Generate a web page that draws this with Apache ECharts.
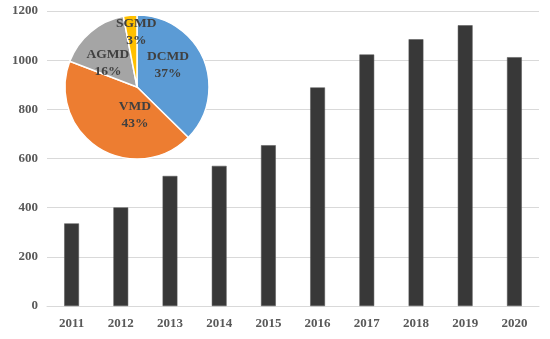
<!DOCTYPE html>
<html><head><meta charset="utf-8">
<script src="https://cdn.jsdelivr.net/npm/echarts@6/dist/echarts.min.js"></script>
<style>html,body{margin:0;padding:0;background:#fff}#c{width:550px;height:339px}</style>
</head><body><div id="c"></div>
<script>
const years = ['2011','2012','2013','2014','2015','2016','2017','2018','2019','2020'];
const counts = [336, 401, 529, 570, 654, 889, 1023, 1085, 1142, 1012];
const yTicks = [0, 200, 400, 600, 800, 1000, 1200];
const pieNames = ['DCMD', 'VMD', 'AGMD', 'SGMD'];
const pieValues = [37, 43, 16, 3];
const pieColors = ['#5B9BD5', '#ED7D31', '#A5A5A5', '#FFC000'];
const labelShift = [[-5, -7], [19, -5], [-4, 6], [3, -16]];

const font = '"Liberation Serif", "Times New Roman", serif';
const chart = echarts.init(document.getElementById('c'), null, {renderer: 'canvas'});
chart.setOption({
  animation: false,
  backgroundColor: '#fff',
  grid: {left: 47, right: 11, top: 11, bottom: 33},
  xAxis: {
    type: 'category', data: years,
    axisLine: {lineStyle: {color: '#D9D9D9', width: 1}},
    axisTick: {show: false},
    axisLabel: {color: '#595959', fontFamily: font, fontWeight: 'bold', fontSize: 13, margin: 11}
  },
  yAxis: {
    type: 'value', min: yTicks[0], max: yTicks[yTicks.length - 1], interval: yTicks[1] - yTicks[0],
    axisLine: {show: false}, axisTick: {show: false},
    splitLine: {lineStyle: {color: '#D9D9D9', width: 1}},
    axisLabel: {color: '#595959', fontFamily: font, fontWeight: 'bold', fontSize: 13, margin: 9,
      formatter: v => String(v)}
  },
  series: [
    {
      type: 'bar', data: counts, barWidth: '30%',
      itemStyle: {color: '#383838', borderColor: '#555', borderWidth: 0.5}
    },
    {
      type: 'pie', center: [137, 87], radius: 72, startAngle: 90, clockwise: true,
      data: pieNames.map((n, i) => ({name: n, value: pieValues[i], itemStyle: {color: pieColors[i]}})),
      itemStyle: {borderColor: '#fff', borderWidth: 1.5},
      label: {
        show: true, position: 'inside', formatter: p => p.name + '\n' + Math.round(p.percent) + '%',
        fontFamily: font, fontWeight: 'bold', fontSize: 13.5, lineHeight: 17, color: '#404040'
      },
      labelLine: {show: false},
      labelLayout: function (p) {
        const s = labelShift[p.dataIndex];
        return {dx: s[0], dy: s[1]};
      }
    }
  ]
});
</script></body></html>
